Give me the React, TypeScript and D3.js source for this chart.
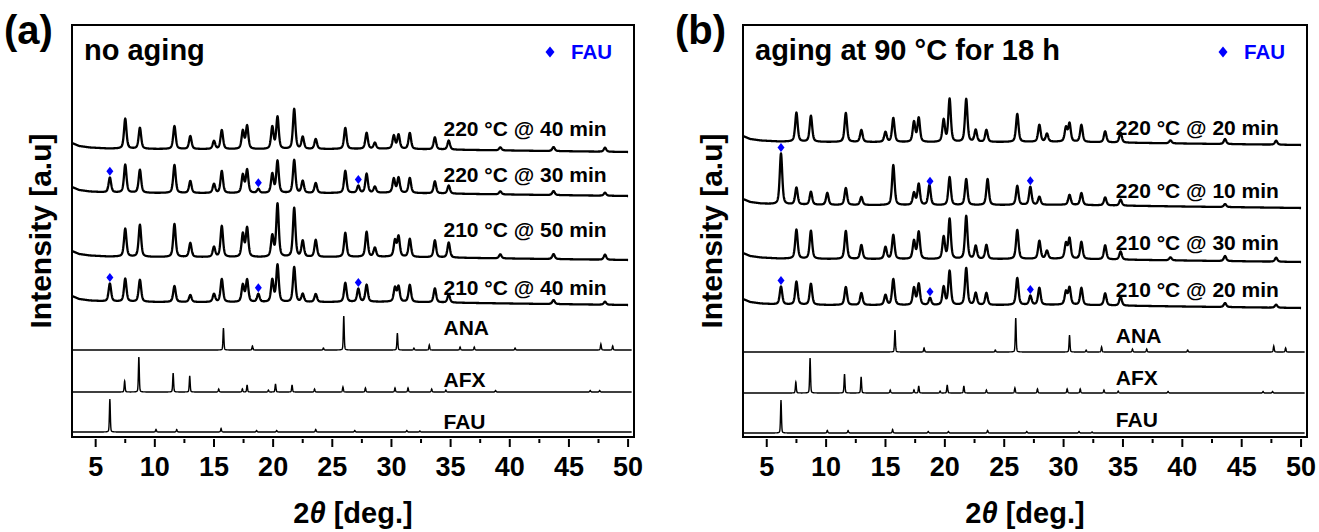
import React from "react";
import * as d3 from "d3";

// ---------- data (2θ in degrees, intensity in arbitrary units) ----------
const X_DOMAIN: [number, number] = [3, 50.5];
const Y_DOMAIN: [number, number] = [0, 412];
const X_TICKS = [5, 10, 15, 20, 25, 30, 35, 40, 45, 50];
const X_MINOR = [7.5, 12.5, 17.5, 22.5, 27.5, 32.5, 37.5, 42.5, 47.5];

// low-angle background of the measured patterns [2θ, intensity]
const BACKGROUND: [number, number][] = [
  [3, 9], [3.6, 6], [4.5, 4.5], [6, 3.5], [10, 3], [20, 2.7], [30, 3.2], [40, 1.5], [50, 0],
];

// panel (a) measured patterns: [2θ, peak height]
const A_220_40: [number, number][] = [
  [7.5, 30], [8.74, 21], [11.66, 23], [13.0, 13], [15.0, 8], [15.66, 19], [17.44, 18], [17.8, 23],
  [19.93, 22], [20.37, 32], [21.78, 40], [22.5, 12], [23.6, 10], [26.1, 21], [27.9, 16], [28.6, 6],
  [30.2, 13], [30.6, 14], [31.55, 16], [33.67, 12], [34.84, 9], [39.2, 3], [43.7, 4], [48.05, 4],
];
const A_220_30: [number, number][] = [
  [6.2, 15], [7.5, 28], [8.74, 23], [11.66, 28], [13.0, 12], [15.0, 9], [15.66, 22], [17.44, 18],
  [17.8, 23], [18.75, 4], [19.93, 19], [20.37, 32], [21.78, 33], [22.5, 12], [23.6, 10], [26.1, 22],
  [27.2, 7], [27.9, 19], [28.6, 6], [30.2, 14], [30.6, 15], [31.55, 15], [33.67, 12], [34.84, 8],
  [39.2, 3], [43.7, 4], [48.05, 3],
];
const A_210_50: [number, number][] = [
  [7.5, 28], [8.74, 32], [11.66, 33], [13.0, 14], [15.0, 10], [15.66, 31], [17.44, 23], [17.8, 29],
  [19.93, 21], [20.37, 53], [21.78, 49], [22.5, 16], [23.6, 17], [26.1, 24], [27.9, 25], [28.6, 9],
  [30.3, 16], [30.6, 20], [31.55, 18], [33.67, 17], [34.84, 15], [39.2, 4], [43.7, 5], [48.05, 5],
];
const A_210_40: [number, number][] = [
  [6.2, 18], [7.5, 23], [8.74, 22], [11.66, 16], [13.0, 7], [15.0, 8], [15.66, 23], [17.44, 17],
  [17.8, 22], [18.75, 8], [19.93, 22], [20.37, 37], [21.78, 35], [22.5, 8], [23.6, 8], [26.1, 19],
  [27.2, 13], [27.9, 17], [30.3, 14], [30.6, 15], [31.55, 17], [33.67, 14], [34.84, 8], [43.7, 4],
  [48.05, 3],
];

// panel (b) measured patterns
const B_220_20: [number, number][] = [
  [7.5, 29], [8.72, 26], [11.66, 29], [12.97, 12], [15.0, 10], [15.66, 24], [17.4, 20], [17.8, 24],
  [19.9, 22], [20.4, 43], [21.8, 43], [22.6, 12], [23.5, 12], [26.1, 28], [27.96, 17], [28.6, 8],
  [30.2, 14], [30.5, 18], [31.5, 17], [33.5, 11], [34.8, 10], [39.0, 3], [43.6, 5], [47.9, 4],
];
const B_220_10: [number, number][] = [
  [6.2, 51], [7.5, 17], [8.72, 13], [10.1, 12], [11.66, 17], [12.97, 8], [15.66, 40], [17.4, 12],
  [17.8, 21], [18.7, 20], [20.4, 28], [21.8, 26], [23.6, 26], [26.1, 19], [27.2, 18], [27.96, 8],
  [30.5, 10], [31.5, 12], [33.5, 8], [34.8, 6], [43.6, 3],
];
const B_210_30: [number, number][] = [
  [7.5, 29], [8.72, 28], [11.66, 28], [12.97, 14], [15.0, 12], [15.66, 24], [17.4, 18], [17.8, 27],
  [19.9, 22], [20.4, 40], [21.8, 43], [22.6, 13], [23.5, 14], [26.1, 29], [27.96, 18], [28.6, 8],
  [30.2, 15], [30.5, 20], [31.5, 17], [33.5, 14], [34.8, 8], [39.0, 3], [43.6, 5], [47.9, 4],
];
const B_210_20: [number, number][] = [
  [6.2, 18], [7.5, 23], [8.72, 21], [11.66, 18], [12.97, 12], [15.0, 10], [15.66, 26], [17.4, 17],
  [17.8, 21], [18.75, 7], [19.9, 18], [20.4, 34], [21.8, 37], [22.6, 12], [23.5, 12], [26.1, 27],
  [27.2, 9], [27.96, 17], [30.2, 13], [30.5, 17], [31.5, 17], [33.5, 12], [34.8, 9], [43.6, 4],
  [47.9, 3],
];

// simulated reference patterns
const REF_ANA: [number, number][] = [
  [15.8, 22], [18.25, 4], [24.25, 2], [25.97, 34], [30.5, 17], [31.9, 2], [33.2, 5], [35.8, 3],
  [37.0, 3], [40.45, 2], [47.7, 6], [48.7, 4],
];
const REF_AFX: [number, number][] = [
  [7.45, 11], [8.65, 35], [11.55, 19], [12.95, 16], [15.4, 3], [17.4, 3], [17.8, 7], [19.6, 2],
  [20.2, 8], [21.6, 7], [23.5, 3], [25.9, 5], [27.8, 4], [30.3, 4], [31.4, 4], [33.4, 3], [34.6, 2],
  [38.8, 1.5], [46.8, 1.5], [47.6, 1.5],
];
const REF_FAU: [number, number][] = [
  [6.2, 33], [10.1, 2.5], [11.85, 2.5], [15.6, 3.5], [18.6, 1.5], [20.3, 1.5], [23.6, 2.5],
  [26.9, 1.5], [31.3, 1.5], [32.4, 1],
];

const FAU_MARKS = [6.2, 18.75, 27.2];

const LABELS_A = ["220 °C @ 40 min", "220 °C @ 30 min", "210 °C @ 50 min", "210 °C @ 40 min", "ANA", "AFX", "FAU"];
const LABELS_B = ["220 °C @ 20 min", "220 °C @ 10 min", "210 °C @ 30 min", "210 °C @ 20 min", "ANA", "AFX", "FAU"];
const OFFSETS_A = [285, 241, 177, 132, 87, 45, 5];
const OFFSETS_B = [292, 229, 175, 129, 85, 44, 4];
const MARKED_A = [false, true, false, true];
const MARKED_B = [false, true, false, true];

// ---------- layout ----------
const LABEL_BASE_A = [136, 182, 237, 295, 335, 387, 429];
const LABEL_BASE_B = [135, 198, 250, 297, 343, 385, 427];

// ---------- helpers ----------
function pv(dx: number, fwhm: number, eta: number) {
  const t = (2 * dx) / fwhm;
  const L = 1 / (1 + t * t);
  const G = Math.exp(-Math.LN2 * t * t);
  return eta * L + (1 - eta) * G;
}

const bgScale = d3
  .scaleLinear()
  .domain(BACKGROUND.map((d) => d[0]))
  .range(BACKGROUND.map((d) => d[1]))
  .clamp(true);

function intensity(peaks: [number, number][], x: number, fwhm: number, eta: number, withBg: boolean) {
  let v = withBg ? bgScale(x) : 0;
  for (const [p, h] of peaks) v += h * pv(x - p, fwhm, eta);
  return v;
}

function profile(peaks: [number, number][], fwhm: number, eta: number, withBg: boolean, x1: number) {
  const grid = d3.range(X_DOMAIN[0], x1 + 1e-9, 0.02).concat(peaks.map((d) => d[0]));
  grid.sort((a, b) => a - b);
  return grid.map((x) => [x, intensity(peaks, x, fwhm, eta, withBg)] as [number, number]);
}

const FONT = "'Liberation Sans', Arial, Helvetica, sans-serif";
const BLUE = "#0000ff";

const FRAME_TOP = 25;
const FRAME_BOTTOM = 437;

function diamond(cx: number, cy: number, w: number, h: number) {
  return `M${cx},${cy - h / 2}L${cx + w / 2},${cy}L${cx},${cy + h / 2}L${cx - w / 2},${cy}Z`;
}

type PanelProps = {
  left: number;
  right: number;
  letter: string;
  title: string;
  measured: [number, number][][];
  labels: string[];
  offsets: number[];
  marked: boolean[];
  labelBase: number[];
};

function Panel({ left, right, letter, title, measured, labels, offsets, marked, labelBase }: PanelProps) {
  const x = d3.scaleLinear().domain(X_DOMAIN).range([left, right]);
  const y = d3.scaleLinear().domain(Y_DOMAIN).range([FRAME_BOTTOM, FRAME_TOP]);
  const refs = [REF_ANA, REF_AFX, REF_FAU];
  const line = d3
    .line<[number, number]>()
    .x((d) => x(d[0]))
    .y((d) => y(d[1]));

  const expPaths = measured.map((peaks, i) =>
    line(profile(peaks, 0.25, 0.5, true, 50).map(([a, b]) => [a, b + offsets[i]] as [number, number]))
  );
  const refPaths = refs.map((peaks, i) =>
    line(profile(peaks, 0.09, 0.3, false, 50.3).map(([a, b]) => [a, b + offsets[4 + i]] as [number, number]))
  );
  const labelX = x(34.4);
  const cx = (left + right) / 2;

  return (
    <g fontFamily={FONT} fontWeight="bold">
      <text x={left - 68} y={44} fontSize={40}>{letter}</text>
      <rect x={left} y={FRAME_TOP} width={right - left} height={FRAME_BOTTOM - FRAME_TOP} fill="none" stroke="#000" strokeWidth={2} />
      <text x={left + 12} y={60} fontSize={29}>{title}</text>
      <path d={diamond(right - 84, 52, 9, 11)} fill={BLUE} />
      <text x={right - 63} y={59} fontSize={20.5} fill={BLUE}>FAU</text>

      {expPaths.map((d, i) => (
        <path key={"e" + i} d={d || ""} fill="none" stroke="#000" strokeWidth={2.3} strokeLinejoin="round" />
      ))}
      {refPaths.map((d, i) => (
        <path key={"r" + i} d={d || ""} fill="none" stroke="#000" strokeWidth={1.4} />
      ))}

      {measured.map((peaks, i) =>
        marked[i]
          ? FAU_MARKS.map((m, j) => (
              <path
                key={"m" + i + "-" + j}
                d={diamond(x(m), y(intensity(peaks, m, 0.25, 0.5, true) + offsets[i]) - 6, 7, 9)}
                fill={BLUE}
              />
            ))
          : null
      )}

      {labels.map((t, i) => (
        <text key={"l" + i} x={labelX} y={labelBase[i]} fontSize={21}>
          {t}
        </text>
      ))}

      {X_TICKS.map((t) => (
        <g key={"t" + t}>
          <line x1={x(t)} x2={x(t)} y1={FRAME_BOTTOM + 2} y2={FRAME_BOTTOM + 10} stroke="#000" strokeWidth={2} />
          <text x={x(t)} y={476} fontSize={27} textAnchor="middle">{t}</text>
        </g>
      ))}
      {X_MINOR.map((t) => (
        <line key={"n" + t} x1={x(t)} x2={x(t)} y1={FRAME_BOTTOM + 2} y2={FRAME_BOTTOM + 6} stroke="#000" strokeWidth={2} />
      ))}

      <text x={cx} y={523} fontSize={29} textAnchor="middle">
        2<tspan fontStyle="italic">θ</tspan> [deg.]
      </text>
      <text transform={`translate(${left - 21},${(FRAME_TOP + FRAME_BOTTOM) / 2}) rotate(-90)`} fontSize={30} textAnchor="middle">
        Intensity [a.u]
      </text>
    </g>
  );
}

export default function App() {
  return (
    <svg width={1319} height={532} style={{ position: "fixed", left: 0, top: 0, background: "#fff" }}>
      <rect x={0} y={0} width={1319} height={532} fill="#fff" />
      <Panel
        left={72}
        right={634}
        letter="(a)"
        title="no aging"
        measured={[A_220_40, A_220_30, A_210_50, A_210_40]}
        labels={LABELS_A}
        offsets={OFFSETS_A}
        marked={MARKED_A}
        labelBase={LABEL_BASE_A}
      />
      <Panel
        left={743}
        right={1307}
        letter="(b)"
        title="aging at 90 °C for 18 h"
        measured={[B_220_20, B_220_10, B_210_30, B_210_20]}
        labels={LABELS_B}
        offsets={OFFSETS_B}
        marked={MARKED_B}
        labelBase={LABEL_BASE_B}
      />
    </svg>
  );
}
